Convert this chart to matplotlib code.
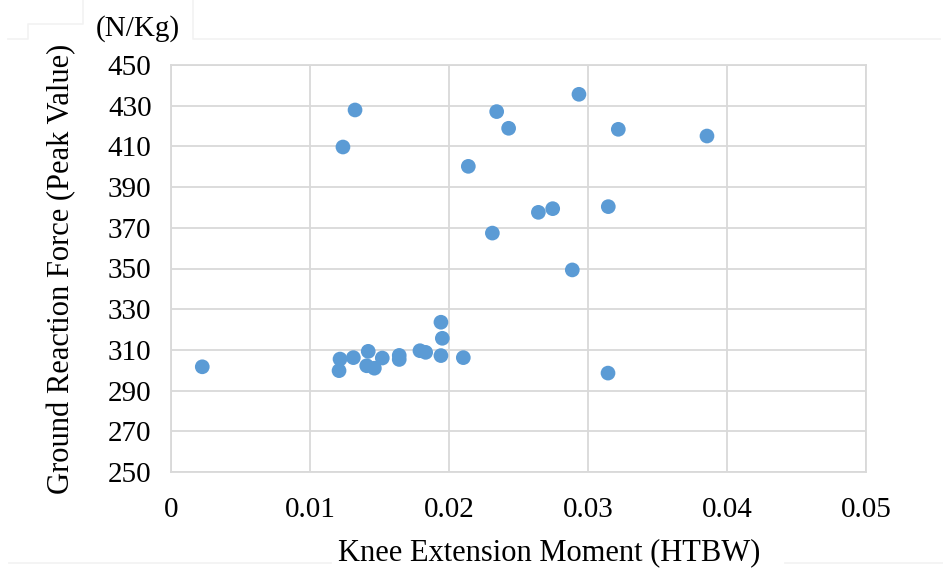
import matplotlib
matplotlib.use("Agg")
from matplotlib import pyplot as plt
from matplotlib.lines import Line2D

# Momento de extension de rodilla (HTBW) y fuerza de reaccion pico (N/Kg)
momento = [0.00225, 0.01216, 0.01209, 0.01312, 0.01419, 0.01408, 0.01463, 0.0152,
           0.01642, 0.01642, 0.01791, 0.01832, 0.01942, 0.01952, 0.01942, 0.02103,
           0.01324, 0.01237, 0.02935, 0.02343, 0.02429, 0.03218, 0.03856, 0.02139,
           0.02643, 0.02746, 0.03146, 0.02312, 0.02887, 0.03144]
fuerza = [301.7, 305.5, 299.8, 306.2, 309.3, 302.2, 301.0, 306.0,
          307.3, 305.3, 309.6, 308.8, 323.6, 315.7, 307.2, 306.2,
          427.9, 409.7, 435.6, 427.1, 418.9, 418.4, 415.1, 400.2,
          377.6, 379.4, 380.4, 367.4, 349.3, 298.6]

xticks = [0, 0.01, 0.02, 0.03, 0.04, 0.05]
xlabels = ["0", "0.01", "0.02", "0.03", "0.04", "0.05"]
yticks = list(range(250, 451, 20))

fuente = "Liberation Serif"
gris = "#d9d9d9"
azul = "#5b9bd5"

fig = plt.figure(figsize=(9.43, 5.68), dpi=100)
ax = fig.add_axes([171 / 943, 1 - 472 / 568, 695 / 943, 407 / 568])

ax.scatter(momento, fuerza, s=112, color=azul, edgecolors="none", zorder=3)

ax.set_xlim(0, 0.05)
ax.set_ylim(250, 450)
ax.set_xticks(xticks)
ax.set_xticklabels(xlabels)
ax.set_yticks(yticks)
ax.grid(True, color=gris, linewidth=1.3)
ax.set_axisbelow(True)
for s in ax.spines.values():
    s.set_color(gris)
    s.set_linewidth(1.3)
ax.tick_params(axis="both", length=0, labelsize=21, colors="black")
ax.tick_params(axis="x", pad=18)
ax.tick_params(axis="y", pad=14)
for t in ax.get_xticklabels() + ax.get_yticklabels():
    t.set_fontfamily(fuente)

ax.set_xlabel("Knee Extension Moment (HTBW)", fontsize=22, family=fuente)
ax.xaxis.set_label_coords((549 - 171) / 695, (472 - 553) / 407)
ax.xaxis.label.set_verticalalignment("center")
ax.set_ylabel("Ground Reaction Force (Peak Value)", fontsize=22, family=fuente)
ax.yaxis.set_label_coords((62 - 171) / 695, 0.5)
ax.yaxis.label.set_verticalalignment("center")

fig.text(138 / 943, 1 - 29 / 568, "(N/Kg)", fontsize=21, family=fuente,
         ha="center", va="center")

# bordes tenues alrededor del grafico
claro = "#f2f2f2"
def linea(xs, ys):
    fig.add_artist(Line2D([x / 943 for x in xs], [1 - y / 568 for y in ys],
                          color=claro, linewidth=1.2))

linea([8, 28, 28, 83, 83], [39, 39, 24, 24, 0])
linea([193, 193, 940], [0, 39, 39])
linea([9, 331], [563, 563])
linea([785, 943], [563, 563])

fig.savefig("out.png", dpi=100)
